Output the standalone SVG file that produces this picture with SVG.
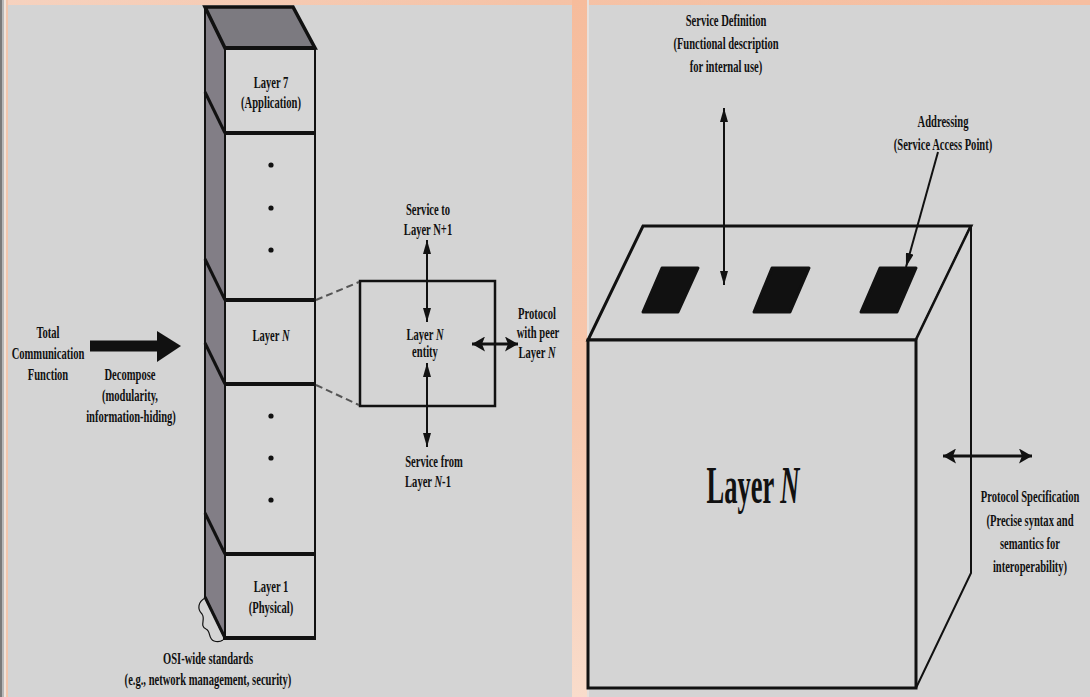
<svg xmlns="http://www.w3.org/2000/svg" width="1090" height="697" viewBox="0 0 1090 697">
<style>
text{font-family:"Liberation Serif","Times New Roman",serif;font-weight:bold;font-size:16px;fill:#111;text-anchor:middle}
.big{font-size:52px}
.ln{stroke:#111;fill:none;stroke-linecap:butt}
.thin{stroke-width:2}
.thick{stroke-width:3}
.div{stroke:#111;stroke-width:4}
.dash{stroke:#555;stroke-width:2;stroke-dasharray:7 4;fill:none}
</style>
<defs>
<linearGradient id="stripe" x1="0" y1="0" x2="0" y2="1">
<stop offset="0" stop-color="#f6bc9c"/>
<stop offset="0.6" stop-color="#f7c8ae"/>
<stop offset="1" stop-color="#f9dccb"/>
</linearGradient>
<linearGradient id="topstrip" x1="0" y1="0" x2="1" y2="0">
<stop offset="0" stop-color="#f6d2bf"/>
<stop offset="0.5" stop-color="#f5c2a6"/>
<stop offset="1" stop-color="#f6bea0"/>
</linearGradient>
<marker id="ah" markerUnits="userSpaceOnUse" markerWidth="14" markerHeight="8" refX="14" refY="4" orient="auto-start-reverse">
<path d="M0,0 L14,4 L0,8 Z" fill="#111"/>
</marker>
<marker id="ahb" markerUnits="userSpaceOnUse" markerWidth="13" markerHeight="15" refX="13" refY="7.5" orient="auto-start-reverse">
<path d="M0,0 L13,7.5 L0,15 L3,7.5 Z" fill="#111"/>
</marker>
</defs>

<!-- background -->
<rect x="0" y="0" width="1090" height="697" fill="#d4d4d4"/>
<rect x="0" y="0" width="1090" height="5" fill="url(#topstrip)"/>
<rect x="0" y="0" width="2" height="697" fill="#7a7a7a"/>
<rect x="2" y="0" width="2" height="697" fill="#b8b8b8"/>
<rect x="4" y="0" width="2" height="697" fill="#f0e4dc"/>
<rect x="6" y="0" width="2" height="697" fill="#f2c6ad"/>
<rect x="572" y="0" width="15" height="697" fill="url(#stripe)"/>
<rect x="587" y="0" width="2" height="697" fill="#e6e0dc"/>

<!-- OSI stack -->
<g id="osi-stack">
<polygon points="205,7 225,48 225,638 205,597" fill="#827e86" stroke="#111" stroke-width="2"/>
<polygon points="205,7 293,7 315,48 225,48" fill="#7c7a80" stroke="#111" stroke-width="3.5" stroke-linejoin="miter"/>
<rect x="225" y="48" width="90" height="590" fill="#d6d6d6" stroke="#111" stroke-width="2"/>
<line class="div" x1="225" y1="48" x2="315" y2="48"/>
<line class="div" x1="225" y1="133" x2="315" y2="133"/>
<line class="div" x1="225" y1="300" x2="315" y2="300"/>
<line class="div" x1="225" y1="384" x2="315" y2="384"/>
<line class="div" x1="225" y1="554" x2="315" y2="554"/>
<line class="div" x1="223" y1="638" x2="316" y2="638"/>
<line class="ln thick" x1="205" y1="92" x2="225" y2="133"/>
<line class="ln thick" x1="205" y1="259" x2="225" y2="300"/>
<line class="ln thick" x1="205" y1="343" x2="225" y2="384"/>
<line class="ln thick" x1="205" y1="513" x2="225" y2="554"/>
<line class="ln thick" x1="205" y1="597" x2="225" y2="638"/>
<path d="M205,598 C198,602 197,609 202,614 C206,619 199,626 206,629 C211,631 208,639 214,641 C217,642 220,642 223,640" fill="none" stroke="#111" stroke-width="1.2"/>
<circle cx="271" cy="165" r="2.6" fill="#111"/>
<circle cx="271" cy="208" r="2.6" fill="#111"/>
<circle cx="271" cy="250" r="2.6" fill="#111"/>
<circle cx="271" cy="416" r="2.6" fill="#111"/>
<circle cx="271" cy="458" r="2.6" fill="#111"/>
<circle cx="271" cy="500" r="2.6" fill="#111"/>
</g>

<g id="layer7">
<text transform="translate(271,88) scale(.66,1)">Layer 7</text>
<text transform="translate(271,108) scale(.66,1)">(Application)</text>
</g>
<g id="layerN-left">
<text transform="translate(271,341) scale(.66,1)">Layer <tspan font-style="italic">N</tspan></text>
</g>
<g id="layer1">
<text transform="translate(271,592) scale(.66,1)">Layer 1</text>
<text transform="translate(271,613) scale(.66,1)">(Physical)</text>
</g>
<g id="osi-standards">
<text transform="translate(208,664) scale(.66,1)">OSI-wide standards</text>
<text transform="translate(208,685) scale(.66,1)">(e.g., network management, security)</text>
</g>

<g id="total-function">
<text transform="translate(48,338) scale(.66,1)">Total</text>
<text transform="translate(48,359) scale(.66,1)">Communication</text>
<text transform="translate(48,380) scale(.66,1)">Function</text>
</g>
<g id="decompose-label">
<text transform="translate(130,380) scale(.66,1)">Decompose</text>
<text transform="translate(130,401) scale(.66,1)">(modularity,</text>
<text transform="translate(131,422) scale(.66,1)">information-hiding)</text>
</g>

<!-- entity -->
<g id="entity">
<rect x="360" y="281" width="135" height="125" fill="#d4d4d4" stroke="#111" stroke-width="2.5"/>
<text transform="translate(425,340) scale(.66,1)">Layer <tspan font-style="italic">N</tspan></text>
<text transform="translate(425,357) scale(.66,1)">entity</text>
</g>
<g id="service-to">
<text transform="translate(428,215) scale(.66,1)">Service to</text>
<text transform="translate(428,235) scale(.66,1)">Layer N+1</text>
</g>
<g id="service-from">
<text transform="translate(434,467) scale(.66,1)">Service from</text>
<text transform="translate(428,487) scale(.66,1)">Layer <tspan font-style="italic">N</tspan>-1</text>
</g>
<g id="protocol-peer">
<text transform="translate(537,319) scale(.66,1)">Protocol</text>
<text transform="translate(538,338) scale(.66,1)">with peer</text>
<text transform="translate(537,358) scale(.66,1)">Layer <tspan font-style="italic">N</tspan></text>
</g>

<!-- right panel box -->
<g id="layerN-box">
<polygon points="643,226 971,226 916,340 588,340" fill="#d4d4d4" stroke="#111" stroke-width="3" stroke-linejoin="miter"/>
<polygon points="916,340 971,226 971,573 916,688" fill="#d4d4d4" stroke="#111" stroke-width="2"/>
<rect x="588" y="340" width="328" height="348" fill="#d4d4d4" stroke="#111" stroke-width="3"/>
<polygon points="662,268 698,268 678,312 643,312" fill="#111" stroke="#111" stroke-width="3" stroke-linejoin="round"/>
<polygon points="772,268 809,268 790,312 754,312" fill="#111" stroke="#111" stroke-width="3" stroke-linejoin="round"/>
<polygon points="880,268 916,268 897,312 861,312" fill="#111" stroke="#111" stroke-width="3" stroke-linejoin="round"/>
<text class="big" transform="translate(753,503) scale(.51,1)">Layer <tspan font-style="italic">N</tspan></text>
</g>
<g id="service-definition">
<text transform="translate(726,26) scale(.66,1)">Service Definition</text>
<text transform="translate(726,49) scale(.66,1)">(Functional description</text>
<text transform="translate(726,72) scale(.66,1)">for internal use)</text>
</g>
<g id="addressing">
<text transform="translate(943,127) scale(.66,1)">Addressing</text>
<text transform="translate(943,150) scale(.66,1)">(Service Access Point)</text>
</g>
<g id="protocol-spec">
<text transform="translate(1030,502) scale(.66,1)">Protocol Specification</text>
<text transform="translate(1030,526) scale(.66,1)">(Precise syntax and</text>
<text transform="translate(1030,549) scale(.66,1)">semantics for</text>
<text transform="translate(1030,572) scale(.66,1)">interoperability)</text>
</g>

<!-- connectors -->
<g id="connectors">
<line x1="90" y1="346" x2="158" y2="346" stroke="#111" stroke-width="11"/>
<polygon points="157,331 181,346 157,362" fill="#111"/>
<line class="dash" x1="316" y1="300" x2="359" y2="282"/>
<line class="dash" x1="316" y1="385" x2="359" y2="405"/>
<line class="ln thin" x1="427" y1="240" x2="427" y2="322" marker-start="url(#ah)" marker-end="url(#ah)"/>
<line class="ln thin" x1="427" y1="363" x2="427" y2="447" marker-start="url(#ah)" marker-end="url(#ah)"/>
<line class="ln thick" x1="472" y1="344" x2="518" y2="344" marker-start="url(#ahb)" marker-end="url(#ahb)"/>
<line class="ln thin" x1="724" y1="108" x2="724" y2="285" marker-start="url(#ah)" marker-end="url(#ah)"/>
<line class="ln thin" x1="938" y1="152" x2="906" y2="267" marker-end="url(#ah)"/>
<line class="ln thick" x1="943" y1="456" x2="1032" y2="456" marker-start="url(#ahb)" marker-end="url(#ahb)"/>
</g>
</svg>
